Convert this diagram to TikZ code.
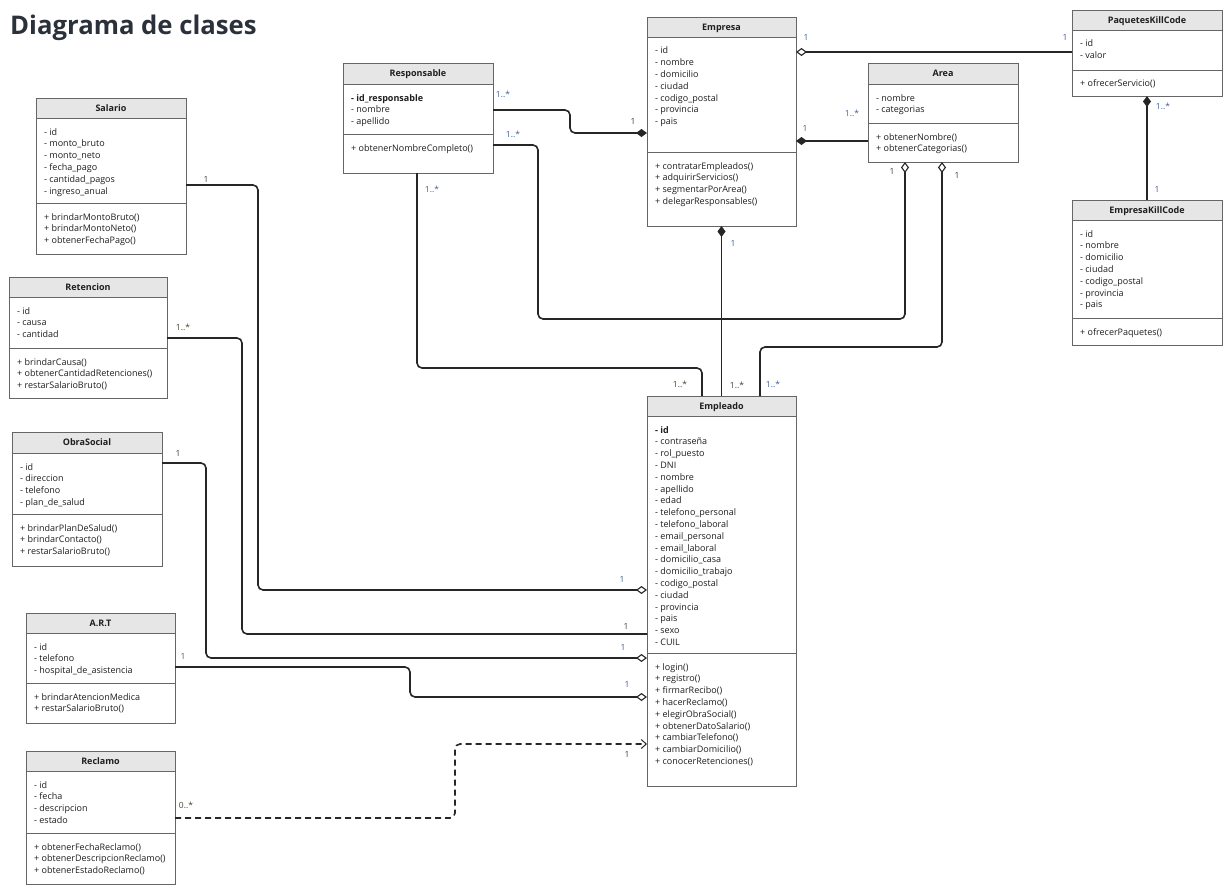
\documentclass[tikz,border=0pt]{standalone}
\usepackage{fontspec}
\setmainfont{Open Sans}
\usetikzlibrary{arrows.meta}
\definecolor{hdr}{HTML}{E6E6E6}
\definecolor{bord}{HTML}{666666}
\definecolor{txt}{HTML}{1E1E1E}
\definecolor{labA}{HTML}{3E5F9A}
\definecolor{labB}{HTML}{4A4030}
\definecolor{ttl}{HTML}{2B313B}
\tikzset{
  classbox/.style={fill=white, inner sep=0pt, outer sep=0pt},
  bordline/.style={draw=bord, line width=0.9pt},
  mem/.style={font=\fontsize{9}{10}\selectfont, text=txt, inner sep=0pt, anchor=base west},
  ttlnode/.style={font=\bfseries\fontsize{9}{10}\selectfont, text=txt, inner sep=0pt, anchor=base},
  conn/.style={line width=1.6pt, draw=black!85, rounded corners=5pt},
  odia/.style={-{Diamond[open, fill=white, length=11pt, width=8pt, line width=1.1pt]}},
  fdia/.style={-{Diamond[length=11pt, width=8pt]}},
  sodia/.style={{Diamond[open, fill=white, length=11pt, width=8pt, line width=1.1pt]}-},
  sfdia/.style={{Diamond[length=11pt, width=8pt]}-},
  lab/.style={font=\fontsize{8.5}{9}\selectfont, inner sep=0pt, text=labA},
  labb/.style={lab, text=labB},
}
% #1 name, #2 x1, #3 y1, #4 x2, #5 header bottom, #6 divider, #7 y2, #8 title
\newcommand\umlbox[8]{%
  \node[classbox, minimum width={(#4-#2)*1pt}, minimum height={(#7-#3)*1pt}] (#1) at ({(#2+#4)/2},{(#3+#7)/2}) {};
  \fill[hdr] (#2,#3) rectangle (#4,#5);
  \draw[bordline] (#2,#5) -- (#4,#5);
  \draw[bordline] (#2,#6) -- (#4,#6);
  \draw[bordline] (#1.north west) rectangle (#1.south east);
  \node[ttlnode] (#1-title) at ({(#2+#4)/2},{#3+13.5}) {#8};
}
% #1 prefix, #2 x, #3 first baseline, #4 list
\newcommand\umlmembers[4]{%
  \foreach \t [count=\i] in {#4} {
    \node[mem] (#1-\i) at (#2,{#3+(\i-1)*11.8}) {\t};
  }
}
\begin{document}
\begin{tikzpicture}[x=1pt, y=-1pt]
\useasboundingbox (0,0) rectangle (1232,891);
\node[font=\bfseries\fontsize{25.7}{30}\selectfont, text=ttl, anchor=base west, inner sep=0pt] (title) at (10,35) {Diagrama de clases};

% Salario
\umlbox{salario}{36}{98}{186}{118}{203}{254}{Salario}
\umlmembers{salario-a}{44}{135}{- id, - monto\_bruto, - monto\_neto, - fecha\_pago, - cantidad\_pagos, - ingreso\_anual}
\umlmembers{salario-m}{44}{220}{+ brindarMontoBruto(), + brindarMontoNeto(), + obtenerFechaPago()}

% Retencion
\umlbox{retencion}{9}{277}{167}{297}{348}{398}{Retencion}
\umlmembers{retencion-a}{17}{314}{- id, - causa, - cantidad}
\umlmembers{retencion-m}{17}{365}{+ brindarCausa(), + obtenerCantidadRetenciones(), + restarSalarioBruto()}

% ObraSocial
\umlbox{obra}{12}{432}{162}{453}{514}{566}{ObraSocial}
\umlmembers{obra-a}{20}{470}{- id, - direccion, - telefono, - plan\_de\_salud}
\umlmembers{obra-m}{20}{531}{+ brindarPlanDeSalud(), + brindarContacto(), + restarSalarioBruto()}

% A.R.T
\umlbox{art}{26}{613}{175}{633}{683}{723}{A.R.T}
\umlmembers{art-a}{34}{650}{- id, - telefono, - hospital\_de\_asistencia}
\umlmembers{art-m}{34}{700}{+ brindarAtencionMedica, + restarSalarioBruto()}

% Reclamo
\umlbox{reclamo}{26}{751}{175}{771}{833}{884}{Reclamo}
\umlmembers{reclamo-a}{34}{788}{- id, - fecha, - descripcion, - estado}
\umlmembers{reclamo-m}{34}{850}{+ obtenerFechaReclamo(), + obtenerDescripcionReclamo(), + obtenerEstadoReclamo()}

% Responsable
\umlbox{resp}{343}{63}{493}{84}{134}{173}{Responsable}
\umlmembers{resp-a}{351}{101}{\textbf{- id\_responsable}, - nombre, - apellido}
\umlmembers{resp-m}{351}{151}{+ obtenerNombreCompleto()}

% Empresa
\umlbox{empresa}{647}{17}{796}{37}{152}{226}{Empresa}
\umlmembers{empresa-a}{655}{54}{- id, - nombre, - domicilio, - ciudad, - codigo\_postal, - provincia, - pais}
\umlmembers{empresa-m}{655}{169}{+ contratarEmpleados(), + adquirirServicios(), + segmentarPorArea(), + delegarResponsables()}

% Area
\umlbox{area}{868}{63}{1018}{84}{123}{162}{Area}
\umlmembers{area-a}{876}{101}{- nombre, - categorias}
\umlmembers{area-m}{876}{140}{+ obtenerNombre(), + obtenerCategorias()}

% PaquetesKillCode
\umlbox{paq}{1072}{10}{1222}{30}{70}{96}{PaquetesKillCode}
\umlmembers{paq-a}{1080}{47}{- id, - valor}
\umlmembers{paq-m}{1080}{87}{+ ofrecerServicio()}

% EmpresaKillCode
\umlbox{ekc}{1072}{200}{1222}{220}{318}{345}{EmpresaKillCode}
\umlmembers{ekc-a}{1080}{237}{- id, - nombre, - domicilio, - ciudad, - codigo\_postal, - provincia, - pais}
\umlmembers{ekc-m}{1080}{335}{+ ofrecerPaquetes()}

% Empleado
\umlbox{emp}{647}{396}{796}{416}{653}{786}{Empleado}
\umlmembers{emp-a}{655}{433}{\textbf{- id}, - contraseña, - rol\_puesto, - DNI, - nombre, - apellido, - edad, - telefono\_personal, - telefono\_laboral, - email\_personal, - email\_laboral, - domicilio\_casa, - domicilio\_trabajo, - codigo\_postal, - ciudad, - provincia, - pais, - sexo, - CUIL}
\umlmembers{emp-m}{655}{670}{+ login(), + registro(), + firmarRecibo(), + hacerReclamo(), + elegirObraSocial(), + obtenerDatoSalario(), + cambiarTelefono(), + cambiarDomicilio(), + conocerRetenciones()}

% Connectors
\draw[conn, odia] (salario.east |- 0,185) -- (258,185) -- (258,590) -- (emp.west |- 0,590);
\draw[conn] (retencion.east |- 0,338) -- (242,338) -- (242,634) -- (emp.west |- 0,634);
\draw[conn, odia] (obra.east |- 0,463) -- (206,463) -- (206,658) -- (emp.west |- 0,658);
\draw[conn, odia] (art.east |- 0,667) -- (410,667) -- (410,697) -- (emp.west |- 0,697);
\draw[conn, dashed, dash pattern=on 6pt off 4pt, -{Straight Barb[length=5pt, width=9pt, line width=1pt]}] (reclamo.east |- 0,818) -- (455,818) -- (455,744) -- (emp.west |- 0,744);
\draw[conn, fdia] (resp.east |- 0,110) -- (570,110) -- (570,133) -- (empresa.west |- 0,133);
\draw[conn, odia] (resp.east |- 0,145) -- (538,145) -- (538,319) -- (905,319) -- (area.south -| 905,0);
\draw[conn] (resp.south -| 417,0) -- (417,368) -- (702,368) -- (emp.north -| 702,0);
\draw[conn, sfdia] (empresa.south) -- (emp.north -| empresa.south);
\draw[conn, sodia] (area.south -| 942,0) -- (942,347) -- (760,347) -- (emp.north -| 760,0);
\draw[conn, sodia] (empresa.east |- 0,52) -- (paq.west |- 0,52);
\draw[conn, sfdia] (empresa.east |- 0,141) -- (area.west |- 0,141);
\draw[conn, sfdia] (paq.south) -- (ekc.north);

% Multiplicity labels
\node[labb] (l1) at (206,179) {1};
\node[labb] (l2) at (183,327) {1..*};
\node[labb] (l3) at (178,453) {1};
\node[lab] (l4) at (183,656) {1};
\node[labb] (l5) at (186,805) {0..*};
\node[lab] (l6) at (622,579) {1};
\node[labb] (l7) at (626,626) {1};
\node[lab] (l8) at (623,647) {1};
\node[lab] (l9) at (627,684) {1};
\node[labb] (l10) at (627,754) {1};
\node[lab] (l11) at (503,94) {1..*};
\node[labb] (l12) at (633,121) {1};
\node[lab] (l13) at (513,134) {1..*};
\node[lab] (l14) at (432,189) {1..*};
\node[labb] (l15) at (892,171) {1};
\node[labb] (l16) at (957,175) {1};
\node[labb] (l17) at (680,384) {1..*};
\node[labb] (l18) at (737,385) {1..*};
\node[lab] (l19) at (773,384) {1..*};
\node[lab] (l20) at (733,243) {1};
\node[lab] (l21) at (806,37) {1};
\node[lab] (l22) at (1065,37) {1};
\node[lab] (l23) at (805,128) {1};
\node[lab] (l24) at (852,113) {1..*};
\node[lab] (l25) at (1163,106) {1..*};
\node[lab] (l26) at (1157,189) {1};
\end{tikzpicture}
\end{document}
